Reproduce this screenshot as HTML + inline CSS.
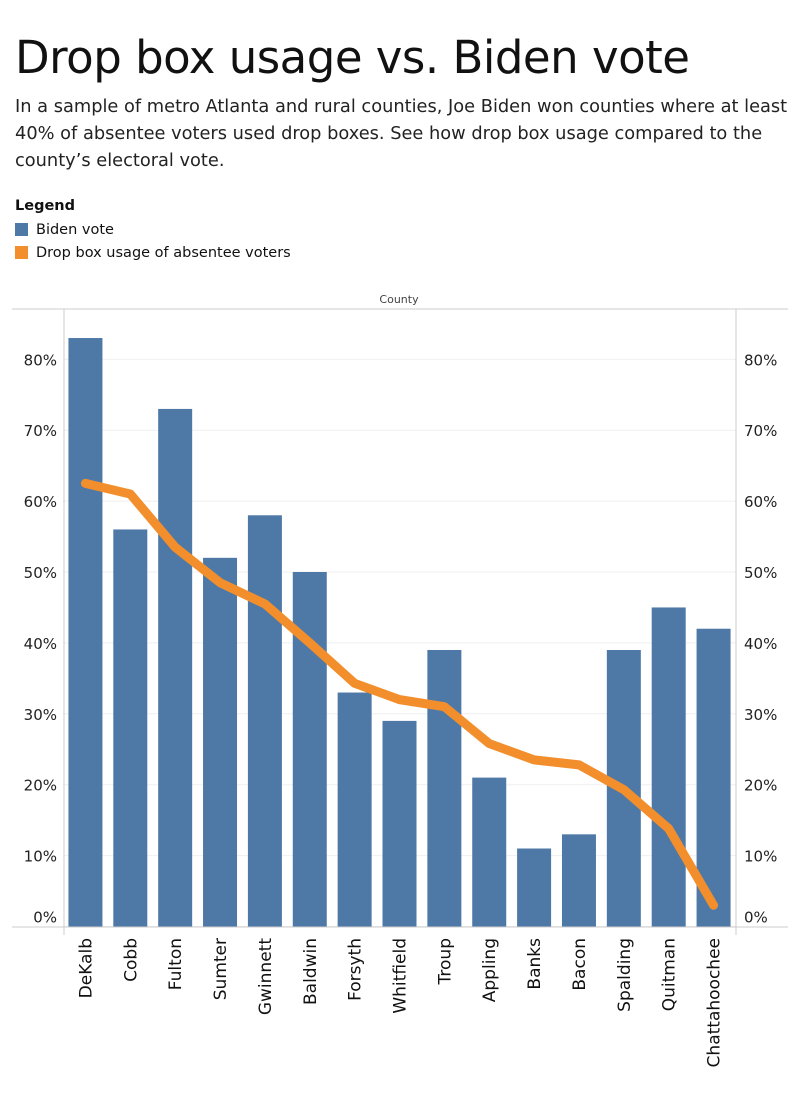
<!DOCTYPE html>
<html><head><meta charset="utf-8"><style>
body{margin:0;background:#fff;font-family:"DejaVu Sans","Liberation Sans",sans-serif;color:#111;width:799px;height:1099px;overflow:hidden;position:relative}
.t{position:absolute;left:15px;top:31px;font-size:45px;white-space:nowrap;letter-spacing:-0.5px}
.s{position:absolute;left:15px;top:93px;font-size:17.8px;line-height:27px;width:790px;color:#222}
.lg{position:absolute;left:15px;top:198px;font-size:14.5px}
.lg b{display:block;margin-bottom:4px}
.le{display:flex;align-items:center;height:23px}
.sw{width:13px;height:13px;margin-right:8px}
</style></head><body>
<div class="t">Drop box usage vs. Biden vote</div>
<div class="s">In a sample of metro Atlanta and rural counties, Joe Biden won counties where at least 40% of absentee voters used drop boxes. See how drop box usage compared to the county’s electoral vote.</div>
<div class="lg"><b>Legend</b>
<div class="le"><div class="sw" style="background:#4e79a7"></div>Biden vote</div>
<div class="le"><div class="sw" style="background:#f28e2b"></div>Drop box usage of absentee voters</div></div>
<svg id="c" width="799" height="1099" style="position:absolute;left:0;top:0"></svg>
<script>
const categories=["DeKalb","Cobb","Fulton","Sumter","Gwinnett","Baldwin","Forsyth","Whitfield","Troup","Appling","Banks","Bacon","Spalding","Quitman","Chattahoochee"];
const bidenVote=[83,56,73,52,58,50,33,29,39,21,11,13,39,45,42];
const dropBox=[62.5,61,53.5,48.5,45.5,40,34.3,32,31,25.8,23.5,22.8,19.3,13.8,3];
const ticks=[0,10,20,30,40,50,60,70,80];
const ns="http://www.w3.org/2000/svg",svg=document.getElementById('c');
const L=63,R=736,B=926.5,U=70.9;
const y=v=>B-v*U/10, bw=(R-L)/categories.length, x=i=>L+bw*(i+0.5);
function mk(t,a,txt){const e=document.createElementNS(ns,t);for(const k in a)e.setAttribute(k,a[k]);if(txt!=null)e.textContent=txt;svg.appendChild(e);return e;}
ticks.forEach(t=>{
 const g=mk('line',{x1:L,x2:R,y1:y(t),y2:y(t),stroke:'#efefef'});
 
 
 const ty=t==0?y(t)-4:y(t)+6;
 const a=mk('text',{x:57,y:ty,'text-anchor':'end','font-size':15,fill:'#222'},t+'%');
 
 
 const b=mk('text',{x:744,y:ty,'font-size':15,fill:'#222'},t+'%');
 
 
});
mk('line',{x1:12,x2:788,y1:309,y2:309,stroke:'#ccc'});
mk('line',{x1:12,x2:788,y1:927,y2:927,stroke:'#ccc'});
mk('line',{x1:L+1,x2:L+1,y1:309,y2:935,stroke:'#ccc'});
mk('line',{x1:R,x2:R,y1:309,y2:935,stroke:'#ccc'});
const h=mk('text',{x:399,y:303,'text-anchor':'middle','font-size':11,fill:'#444'},'County');


categories.forEach((c,i)=>{
 const r=mk('rect',{x:x(i)-17,y:y(bidenVote[i]),width:34,height:B-y(bidenVote[i]),fill:'#4e79a7'});
 
 
 const t=mk('text',{x:0,y:0,transform:`translate(${x(i)+6},938) rotate(-90)`,'text-anchor':'end','font-size':17,fill:'#111'},c);
 
 
});
const p=mk('polyline',{points:dropBox.map((v,i)=>x(i)+','+y(v)).join(' '),fill:'none',stroke:'#f28e2b','stroke-width':9,'stroke-linejoin':'round','stroke-linecap':'round'});


</script>
</body></html>
